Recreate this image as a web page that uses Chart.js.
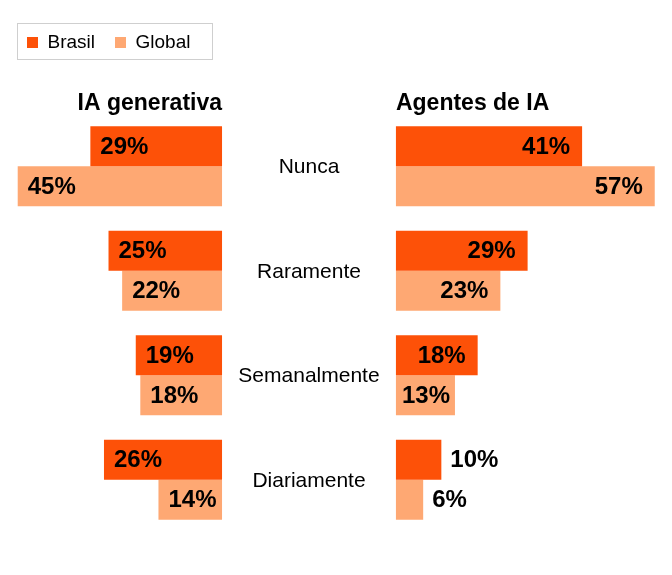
<!DOCTYPE html>
<html>

<head>
    <title>IA generativa x Agentes de IA</title>
    <style>
        body {
            margin: 0;
            background: #fff;
        }

        #canvas-container {
            position: relative;
            width: 672px;
            height: 575px;
        }
    </style>
    <script src="https://cdn.jsdelivr.net/npm/chart.js"></script>
</head>

<body>
    <div id="canvas-container">
        <canvas id="myChart"></canvas>
    </div>

    <script>
        // Data
        const categories = ['Nunca', 'Raramente', 'Semanalmente', 'Diariamente'];
        const seriesNames = ['Brasil', 'Global'];
        const panelTitles = ['IA generativa', 'Agentes de IA'];
        const genBrasil = [29, 25, 19, 26];
        const genGlobal = [45, 22, 18, 14];
        const agBrasil = [41, 29, 18, 10];
        const agGlobal = [57, 23, 13, 6];

        const orange = '#fd5108';
        const lightOrange = '#fea873';
        const font = "'Liberation Sans', Arial, sans-serif";

        Chart.defaults.font.family = font;

        // Shift the legend a bit and draw its frame
        const legendFrame = {
            id: 'legendFrame',
            afterLayout(chart) {
                chart.legend.left += 7;
            },
            afterDraw(chart) {
                const boxes = chart.legend.legendHitBoxes;
                if (!boxes || !boxes.length) return;
                const first = boxes[0];
                const last = boxes[boxes.length - 1];
                const ctx = chart.ctx;
                ctx.save();
                ctx.strokeStyle = '#cfcfcf';
                ctx.lineWidth = 1;
                const l = Math.round(first.left - 10) + 0.5;
                const t = Math.round(first.top - 10) + 0.5;
                const r = Math.round(last.left + last.width + 22) + 0.5;
                const b = Math.round(first.top + first.height + 7) + 0.5;
                ctx.strokeRect(l, t, r - l, b - t);
                ctx.restore();
            }
        };

        // Panel titles, category names and value labels
        const labelsPlugin = {
            id: 'labelsPlugin',
            afterDatasetsDraw(chart) {
                const ctx = chart.ctx;
                const xL0 = chart.scales.xL.getPixelForValue(0);
                const xR0 = chart.scales.xR.getPixelForValue(0);
                const yScale = chart.scales.y;
                ctx.save();
                ctx.fillStyle = '#000';

                // panel titles
                ctx.font = 'bold 23px ' + font;
                ctx.textBaseline = 'alphabetic';
                ctx.textAlign = 'right';
                ctx.fillText(panelTitles[0], xL0, chart.chartArea.top - 4);
                ctx.textAlign = 'left';
                ctx.fillText(panelTitles[1], xR0, chart.chartArea.top - 4);

                // category names in the middle
                ctx.font = '21px ' + font;
                ctx.textAlign = 'center';
                ctx.textBaseline = 'middle';
                categories.forEach((c, i) => {
                    ctx.fillText(c, (xL0 + xR0) / 2, yScale.getPixelForValue(i) + 1);
                });

                // values
                ctx.font = 'bold 24px ' + font;
                chart.data.datasets.forEach((ds, di) => {
                    const meta = chart.getDatasetMeta(di);
                    meta.data.forEach((bar, i) => {
                        const txt = ds.data[i] + '%';
                        const w = ctx.measureText(txt).width;
                        const len = Math.abs(bar.x - bar.base);
                        const y = bar.y + 1;
                        if (ds.xAxisID === 'xL') {
                            ctx.textAlign = 'left';
                            ctx.fillText(txt, bar.x + 10, y);
                        } else if (len - 12 - w >= 5) {
                            ctx.textAlign = 'right';
                            ctx.fillText(txt, bar.x - 12, y);
                        } else if (len >= w + 8) {
                            ctx.textAlign = 'left';
                            ctx.fillText(txt, bar.base + 6, y);
                        } else {
                            ctx.textAlign = 'left';
                            ctx.fillText(txt, bar.x + 9, y);
                        }
                    });
                });
                ctx.restore();
            }
        };

        const ctx = document.getElementById('myChart').getContext('2d');

        const myChart = new Chart(ctx, {
            type: 'bar',
            data: {
                labels: categories,
                datasets: [{
                    label: seriesNames[0],
                    data: genBrasil,
                    xAxisID: 'xL',
                    stack: 'brasil',
                    backgroundColor: orange
                }, {
                    label: seriesNames[1],
                    data: genGlobal,
                    xAxisID: 'xL',
                    stack: 'global',
                    backgroundColor: lightOrange
                }, {
                    label: seriesNames[0],
                    data: agBrasil,
                    xAxisID: 'xR',
                    stack: 'brasil',
                    backgroundColor: orange
                }, {
                    label: seriesNames[1],
                    data: agGlobal,
                    xAxisID: 'xR',
                    stack: 'global',
                    backgroundColor: lightOrange
                }]
            },
            options: {
                indexAxis: 'y',
                responsive: true,
                maintainAspectRatio: false,
                animation: false,
                categoryPercentage: 0.766,
                barPercentage: 1,
                borderWidth: 0,
                layout: {
                    padding: { top: 13, left: 0, right: 0, bottom: 43 }
                },
                scales: {
                    y: {
                        display: false
                    },
                    // left panel grows to the left, zero at ~222px
                    xL: {
                        type: 'linear',
                        reverse: true,
                        min: -99.1,
                        max: 48.9,
                        display: false
                    },
                    // right panel grows to the right, zero at ~396px
                    xR: {
                        type: 'linear',
                        position: 'top',
                        min: -87.2,
                        max: 60.8,
                        grid: { display: false },
                        border: { display: false },
                        ticks: { display: false },
                        afterFit: (scale) => { scale.height = 52; }
                    }
                },
                plugins: {
                    legend: {
                        position: 'top',
                        align: 'start',
                        labels: {
                            filter: (item) => item.datasetIndex < 2,
                            boxWidth: 11,
                            boxHeight: 11,
                            padding: 20,
                            color: '#000',
                            font: { size: 19 }
                        }
                    },
                    tooltip: { enabled: false }
                }
            },
            plugins: [legendFrame, labelsPlugin]
        });
    </script>
</body>

</html>
